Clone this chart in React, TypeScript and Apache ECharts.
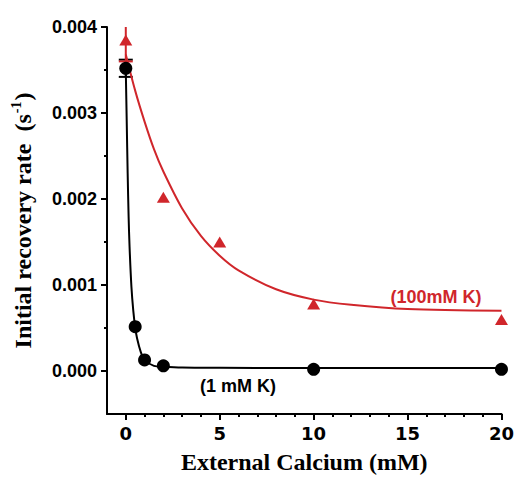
import React, { useEffect, useRef } from "react";
import * as echarts from "echarts";

// Measured data points
const xBlack = [0, 0.5, 1, 2, 10, 20];
const yBlack = [0.00352, 0.000515, 0.000128, 0.00006, 0.00002, 0.00002];
const xRed = [0, 2, 5, 10, 20];
const yRed = [0.00385, 0.00202, 0.0015, 0.00078, 0.0006];

// Error bars (at x = 0)
const errX = [0];
const blackErrLow = [0.00342];
const blackErrHigh = [0.00362];
const redErrLow = [0.0036];
const redErrHigh = [0.0041];

// Fitted curves
const xBlackFit = [0, 0.05, 0.1, 0.15, 0.2, 0.3, 0.4, 0.5, 0.6, 0.8, 1, 1.5, 2, 3, 5, 10, 20];
const yBlackFit = [0.0035, 0.0029, 0.0023, 0.0018, 0.00145, 0.00098, 0.0007, 0.00051, 0.00038, 0.00022, 0.00013, 0.00006, 0.00005, 0.00004, 0.000037, 0.000035, 0.000035];
const xRedFit = [0, 0.5, 1, 1.5, 2, 3, 4, 5, 6, 8, 10, 12, 15, 20];
const yRedFit = [0.00368, 0.00326, 0.0029, 0.00258, 0.00232, 0.00189, 0.00157, 0.00134, 0.00117, 0.00095, 0.00083, 0.00077, 0.00072, 0.0007];

// Ticks
const xMajorTicks = [0, 5, 10, 15, 20];
const xMinorTicks = [1, 2, 3, 4, 6, 7, 8, 9, 11, 12, 13, 14, 16, 17, 18, 19];
const yMajorTicks = [0, 0.001, 0.002, 0.003, 0.004];
const yMinorTicks = [0.0005, 0.0015, 0.0025, 0.0035];

const RED = "#d0262b";

function errorSeries(low: number[], high: number[], color: string, topCap: boolean) {
  return {
    type: "custom",
    xAxisIndex: 0,
    yAxisIndex: 0,
    clip: true,
    z: 1,
    data: errX.map((x, i) => [x, low[i], high[i]]),
    renderItem: (params: any, api: any) => {
      const x = api.value(0);
      const lo = api.coord([x, api.value(1)]);
      const hi = api.coord([x, api.value(2)]);
      const hw = 7;
      const style = { stroke: color, lineWidth: 2 };
      const children: any[] = [
        { type: "line", shape: { x1: lo[0], y1: lo[1], x2: hi[0], y2: hi[1] }, style },
        { type: "line", shape: { x1: lo[0] - hw, y1: lo[1], x2: lo[0] + hw, y2: lo[1] }, style },
      ];
      if (topCap) {
        children.push({ type: "line", shape: { x1: hi[0] - hw, y1: hi[1], x2: hi[0] + hw, y2: hi[1] }, style });
      }
      return { type: "group", children };
    },
  };
}

export default function App() {
  const ref = useRef<HTMLDivElement>(null);
  useEffect(() => {
    if (!ref.current) return;
    const chart = echarts.init(ref.current, null, { renderer: "svg" });
    const axisLineStyle = { color: "#000", width: 2 };
    chart.setOption({
      animation: false,
      backgroundColor: "#fff",
      grid: { left: 107, right: 14, top: 27, bottom: 64, containLabel: false },
      xAxis: [
        {
          type: "value",
          min: -1,
          max: 20,
          name: "External Calcium (mM)",
          nameLocation: "middle",
          nameGap: 36,
          nameTextStyle: { fontFamily: "Liberation Serif", fontWeight: "bold", fontSize: 24, color: "#000" },
          axisLine: { show: true, onZero: false, lineStyle: axisLineStyle },
          axisTick: { show: true, length: 6, inside: false, customValues: xMajorTicks, lineStyle: { color: "#000", width: 2 } },
          axisLabel: { customValues: xMajorTicks, margin: 10, fontFamily: "DejaVu Sans", fontWeight: "bold", fontSize: 18, color: "#000" },
          splitLine: { show: false },
        },
        {
          type: "value",
          min: -1,
          max: 20,
          position: "bottom",
          axisLine: { show: false, onZero: false },
          axisTick: { show: true, length: 3, inside: false, customValues: xMinorTicks, lineStyle: { color: "#000", width: 2 } },
          axisLabel: { show: false },
          splitLine: { show: false },
        },
      ],
      yAxis: [
        {
          type: "value",
          min: -0.0005,
          max: 0.004,
          name: "{a|Initial recovery rate  (s}{s|-1}{a|)}",
          nameLocation: "middle",
          nameRotate: 90,
          nameGap: 70,
          nameTextStyle: {
            color: "#000",
            rich: {
              a: { fontFamily: "Liberation Serif", fontWeight: "bold", fontSize: 24, color: "#000", lineHeight: 28 },
              s: { fontFamily: "Liberation Serif", fontWeight: "bold", fontSize: 14, color: "#000", verticalAlign: "top", lineHeight: 28, padding: [0, 1, 10, 1] },
            },
          },
          axisLine: { show: true, onZero: false, lineStyle: axisLineStyle },
          axisTick: { show: true, length: 6, inside: false, customValues: yMajorTicks, lineStyle: { color: "#000", width: 2 } },
          axisLabel: {
            customValues: yMajorTicks,
            margin: 10,
            fontFamily: "Liberation Sans",
            fontWeight: "bold",
            fontSize: 18,
            color: "#000",
            formatter: (v: number) => v.toFixed(3),
          },
          splitLine: { show: false },
        },
        {
          type: "value",
          min: -0.0005,
          max: 0.004,
          position: "left",
          axisLine: { show: false, onZero: false },
          axisTick: { show: true, length: 3, inside: false, customValues: yMinorTicks, lineStyle: { color: "#000", width: 2 } },
          axisLabel: { show: false },
          splitLine: { show: false },
        },
      ],
      series: [
        {
          type: "line",
          data: xBlackFit.map((x, i) => [x, yBlackFit[i]]),
          smooth: 0.3,
          showSymbol: false,
          lineStyle: { color: "#000", width: 2 },
          z: 2,
        },
        {
          type: "line",
          data: xRedFit.map((x, i) => [x, yRedFit[i]]),
          smooth: 0.3,
          showSymbol: false,
          lineStyle: { color: RED, width: 2 },
          z: 2,
        },
        errorSeries(blackErrLow, blackErrHigh, "#000", true),
        errorSeries(redErrLow, redErrHigh, RED, false),
        {
          type: "scatter",
          data: xBlack.map((x, i) => [x, yBlack[i]]),
          symbol: "circle",
          symbolSize: 13,
          itemStyle: { color: "#000", opacity: 1 },
          z: 3,
        },
        {
          type: "scatter",
          data: xRed.map((x, i) => [x, yRed[i]]),
          symbol: "triangle",
          symbolSize: [13, 11],
          itemStyle: { color: RED, opacity: 1 },
          z: 3,
        },
      ],
      graphic: [
        {
          type: "text",
          x: 436,
          y: 297,
          style: { text: "(100mM K)", fontFamily: "Liberation Sans", fontWeight: "bold", fontSize: 18, fill: RED, align: "center", verticalAlign: "middle" },
        },
        {
          type: "text",
          x: 238,
          y: 386,
          style: { text: "(1 mM K)", fontFamily: "Liberation Sans", fontWeight: "bold", fontSize: 18, fill: "#000", align: "center", verticalAlign: "middle" },
        },
      ],
    });
    return () => chart.dispose();
  }, []);
  return <div ref={ref} style={{ position: "fixed", left: 0, top: 0, width: 517, height: 479 }} />;
}
